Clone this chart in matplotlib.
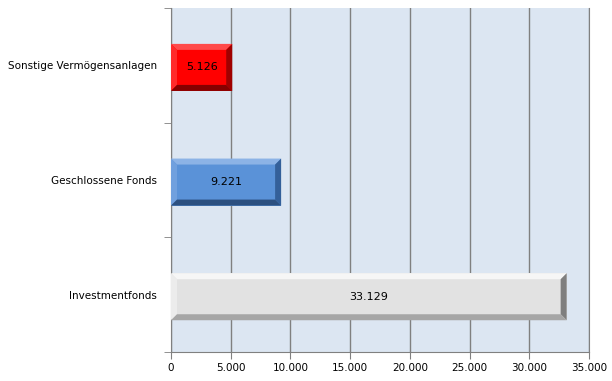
import numpy as np
import matplotlib.pyplot as plt
from matplotlib.patches import Polygon

categories = ['Investmentfonds', 'Geschlossene Fonds', 'Sonstige Vermögensanlagen']
values = [33129, 9221, 5126]
labels = ['33.129', '9.221', '5.126']
xticks = [0, 5000, 10000, 15000, 20000, 25000, 30000, 35000]

# face, top, left, right, bottom
shades = [
    ('#e2e2e2', '#f6f6f6', '#ececec', '#7f7f7f', '#a6a6a6'),
    ('#5a92d8', '#8cb3e6', '#70a0de', '#34609a', '#2c5080'),
    ('#ff0000', '#ff4a4a', '#ff2a2a', '#a00000', '#860000'),
]

fig = plt.figure(figsize=(6.12, 3.81), dpi=100)
ax = fig.add_axes([171 / 612, 1 - 352 / 381, 418 / 612, 344 / 381])
ax.set_facecolor('#dce6f2')
ax.set_xlim(0, 35000)
ax.set_ylim(-0.5, 2.5)

h = 0.41
ypos = np.arange(len(categories))
bpos = ypos - 0.018  # bars sit a touch lower than the category centre
ax.barh(bpos, values, height=h, color=[s[0] for s in shades], zorder=2)

# bevel, roughly 6 px wide
dx = 6 * 35000 / 418
dy = 6 / (344 / 3)
for y, v, s in zip(bpos, values, shades):
    x0, x1 = 0, v
    yb, yt = y - h / 2, y + h / 2
    polys = [
        ([(x0, yt), (x1, yt), (x1 - dx, yt - dy), (x0 + dx, yt - dy)], s[1]),
        ([(x0, yb), (x0, yt), (x0 + dx, yt - dy), (x0 + dx, yb + dy)], s[2]),
        ([(x1, yb), (x1, yt), (x1 - dx, yt - dy), (x1 - dx, yb + dy)], s[3]),
        ([(x0, yb), (x1, yb), (x1 - dx, yb + dy), (x0 + dx, yb + dy)], s[4]),
    ]
    for pts, c in polys:
        ax.add_patch(Polygon(pts, closed=True, facecolor=c, edgecolor='none', zorder=3))

for y, v, t in zip(bpos, values, labels):
    ax.text(v / 2, y, t, ha='center', va='center', fontsize=8, color='black', zorder=4)

ax.set_xticks(xticks)
ax.set_xticklabels([f'{t:,}'.replace(',', '.') for t in xticks], fontsize=7.5)
ax.set_yticks(ypos)
ax.set_yticklabels(categories, fontsize=7.5)
ax.set_yticks([-0.5, 0.5, 1.5, 2.5], minor=True)
ax.tick_params(axis='y', which='major', length=0, pad=10)
ax.tick_params(axis='y', which='minor', length=5, color='#808080')
ax.tick_params(axis='x', length=5, color='#808080', pad=3)

ax.grid(axis='x', color='#808080', linewidth=1, zorder=1)
ax.set_axisbelow(True)
ax.spines['top'].set_visible(False)
for side in ['left', 'bottom', 'right']:
    ax.spines[side].set_color('#808080')

fig.savefig('out.png', dpi=100)
